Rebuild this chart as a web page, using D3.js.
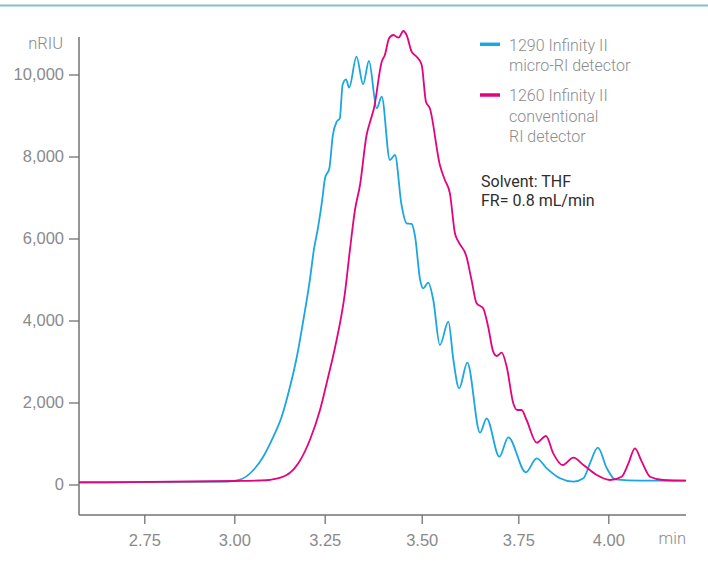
<!DOCTYPE html>
<html>
<head>
<meta charset="utf-8">
<script src="https://cdn.jsdelivr.net/npm/d3@7"></script>
<style>
  body { margin: 0; background: #fff; }
  svg { display: block; font-family: Roboto, "Open Sans", sans-serif; }
  .tick-label { fill: #8a8a8a; font-weight: 300; font-size: 16.5px; }
  .legend-text { fill: #8c8c8c; font-weight: 300; font-size: 16px; }
  .note-text { fill: #2e2e2e; font-weight: 400; font-size: 16px; }
</style>
</head>
<body>
<svg id="chart" width="708" height="565"></svg>
<script>
// retention time (min) and signal (nRIU)
var microTime = [2.569, 2.979, 3.016, 3.053, 3.080, 3.108, 3.131, 3.154, 3.173, 3.191,
  3.209, 3.220, 3.232, 3.242, 3.251, 3.262, 3.271, 3.281, 3.289, 3.296,
  3.305, 3.313, 3.332, 3.349, 3.364, 3.384, 3.397, 3.418, 3.431, 3.448,
  3.461, 3.474, 3.483, 3.496, 3.504, 3.517, 3.530, 3.547, 3.569, 3.582,
  3.597, 3.618, 3.651, 3.668, 3.701, 3.724, 3.771, 3.801, 3.829, 3.866,
  3.903, 3.931, 3.949, 3.971, 3.996, 4.019, 4.088, 4.216];
var microSignal = [55, 68, 120, 354, 678, 1166, 1654, 2385, 3117, 4012,
  4988, 5720, 6288, 6866, 7475, 7712, 8524, 8849, 8932, 9744,
  9883, 9678, 10434, 9761, 10329, 9176, 9458, 7915, 8037, 6817,
  6371, 6354, 6044, 4988, 4785, 4922, 4500, 3402, 3971, 3037,
  2346, 2971, 1263, 1615, 678, 1151, 298, 639, 395, 151,
  68, 151, 517, 898, 395, 127, 93, 93];

var convTime = [2.569, 2.999, 3.071, 3.099, 3.145, 3.177, 3.209, 3.237, 3.259, 3.277,
  3.302, 3.315, 3.328, 3.341, 3.358, 3.367, 3.377, 3.397, 3.405, 3.416,
  3.427, 3.440, 3.453, 3.461, 3.474, 3.487, 3.500, 3.511, 3.521, 3.547,
  3.560, 3.573, 3.586, 3.595, 3.616, 3.629, 3.642, 3.659, 3.672, 3.685,
  3.694, 3.707, 3.720, 3.737, 3.747, 3.759, 3.773, 3.801, 3.827, 3.847,
  3.873, 3.903, 3.931, 3.968, 4.005, 4.037, 4.056, 4.074, 4.093, 4.116,
  4.153, 4.216];
var convSignal = [50, 85, 98, 115, 232, 517, 1085, 1817, 2629, 3361,
  4663, 5720, 6695, 7305, 8524, 8849, 9176, 10312, 10476, 10883,
  10963, 10897, 11061, 10963, 10556, 10434, 10232, 9337, 9176, 7793,
  7427, 7102, 6127, 5922, 5556, 4988, 4420, 4298, 3849, 3239,
  3134, 3215, 2873, 1980, 1817, 1817, 1573, 1020, 1183, 761,
  476, 654, 476, 232, 110, 190, 517, 883, 556, 190,
  110, 93];

var xTicks = [2.75, 3.00, 3.25, 3.50, 3.75, 4.00];
var yTicks = [0, 2000, 4000, 6000, 8000, 10000];
var seriesNames = [["1290 Infinity II", "micro-RI detector"],
                   ["1260 Infinity II", "conventional", "RI detector"]];
var notes = ["Solvent: THF", "FR= 0.8 mL/min"];

var blue = "#1ba6e1", pink = "#e4037d";

var svg = d3.select("#chart");

// teal rule across the top
svg.append("line")
  .attr("x1", 0).attr("x2", 708)
  .attr("y1", 5.5).attr("y2", 5.5)
  .style("stroke", "#86c2bc")
  .style("stroke-width", 2);

var plotLeft = 79, plotRight = 686, plotTop = 37, plotBottom = 515;

// the printed axis is not evenly spaced, so use a piecewise scale
var x = d3.scaleLinear()
  .domain([2.569].concat(xTicks, [4.216]))
  .range([plotLeft, 144.3, 234.3, 324.7, 421.7, 518.3, 608.3, plotRight]);

var y = d3.scaleLinear()
  .domain([0, 10000])
  .range([484.5, 74.5]);

var axisColor = "#737373";

// y axis
var yAxis = d3.axisLeft(y)
  .tickValues(yTicks)
  .tickSize(10)
  .tickPadding(5)
  .tickFormat(d3.format(","));

var gy = svg.append("g")
  .attr("transform", "translate(" + plotLeft + ",0)")
  .call(yAxis);
gy.select(".domain").remove();
gy.selectAll("line").style("stroke", axisColor).style("stroke-width", 1.3);
gy.selectAll("text").attr("class", "tick-label").attr("font-family", null).attr("font-size", null);

svg.append("line")
  .attr("x1", plotLeft).attr("x2", plotLeft)
  .attr("y1", plotTop).attr("y2", plotBottom)
  .style("stroke", axisColor).style("stroke-width", 1.5);

svg.append("text")
  .attr("class", "tick-label")
  .attr("x", 63).attr("y", 49)
  .attr("text-anchor", "end")
  .text("nRIU");

// x axis
var xAxis = d3.axisBottom(x)
  .tickValues(xTicks)
  .tickSize(9)
  .tickPadding(10)
  .tickFormat(d3.format(".2f"));

var gx = svg.append("g")
  .attr("transform", "translate(0," + plotBottom + ")")
  .call(xAxis);
gx.select(".domain").remove();
gx.selectAll("line").style("stroke", axisColor).style("stroke-width", 1.3);
gx.selectAll("text").attr("class", "tick-label").attr("font-family", null).attr("font-size", null);

svg.append("line")
  .attr("x1", plotLeft).attr("x2", plotRight)
  .attr("y1", plotBottom).attr("y2", plotBottom)
  .style("stroke", axisColor).style("stroke-width", 1.5);

svg.append("text")
  .attr("class", "tick-label")
  .attr("x", plotRight).attr("y", 543.5)
  .attr("text-anchor", "end")
  .text("min");

// traces
var line = d3.line()
  .x(function(d) { return x(d[0]); })
  .y(function(d) { return y(d[1]); })
  .curve(d3.curveMonotoneX);

var microData = d3.zip(microTime, microSignal);
var convData = d3.zip(convTime, convSignal);

svg.append("path")
  .datum(microData)
  .attr("d", line)
  .style("fill", "none")
  .style("stroke", blue)
  .style("stroke-width", 1.8);

svg.append("path")
  .datum(convData)
  .attr("d", line)
  .style("fill", "none")
  .style("stroke", pink)
  .style("stroke-width", 1.8);

// legend
var legendTop = [44.3, 95];
var legendColors = [blue, pink];
seriesNames.forEach(function(lines, i) {
  svg.append("line")
    .attr("x1", 480).attr("x2", 500)
    .attr("y1", legendTop[i]).attr("y2", legendTop[i])
    .style("stroke", legendColors[i])
    .style("stroke-width", 3.5);
  lines.forEach(function(t, j) {
    svg.append("text")
      .attr("class", "legend-text")
      .attr("x", 509)
      .attr("y", legendTop[i] + 6.3 + j * 20.5)
      .text(t);
  });
});

notes.forEach(function(t, j) {
  svg.append("text")
    .attr("class", "note-text")
    .attr("x", 481)
    .attr("y", 186.7 + j * 19.5)
    .text(t);
});
</script>
</body>
</html>
